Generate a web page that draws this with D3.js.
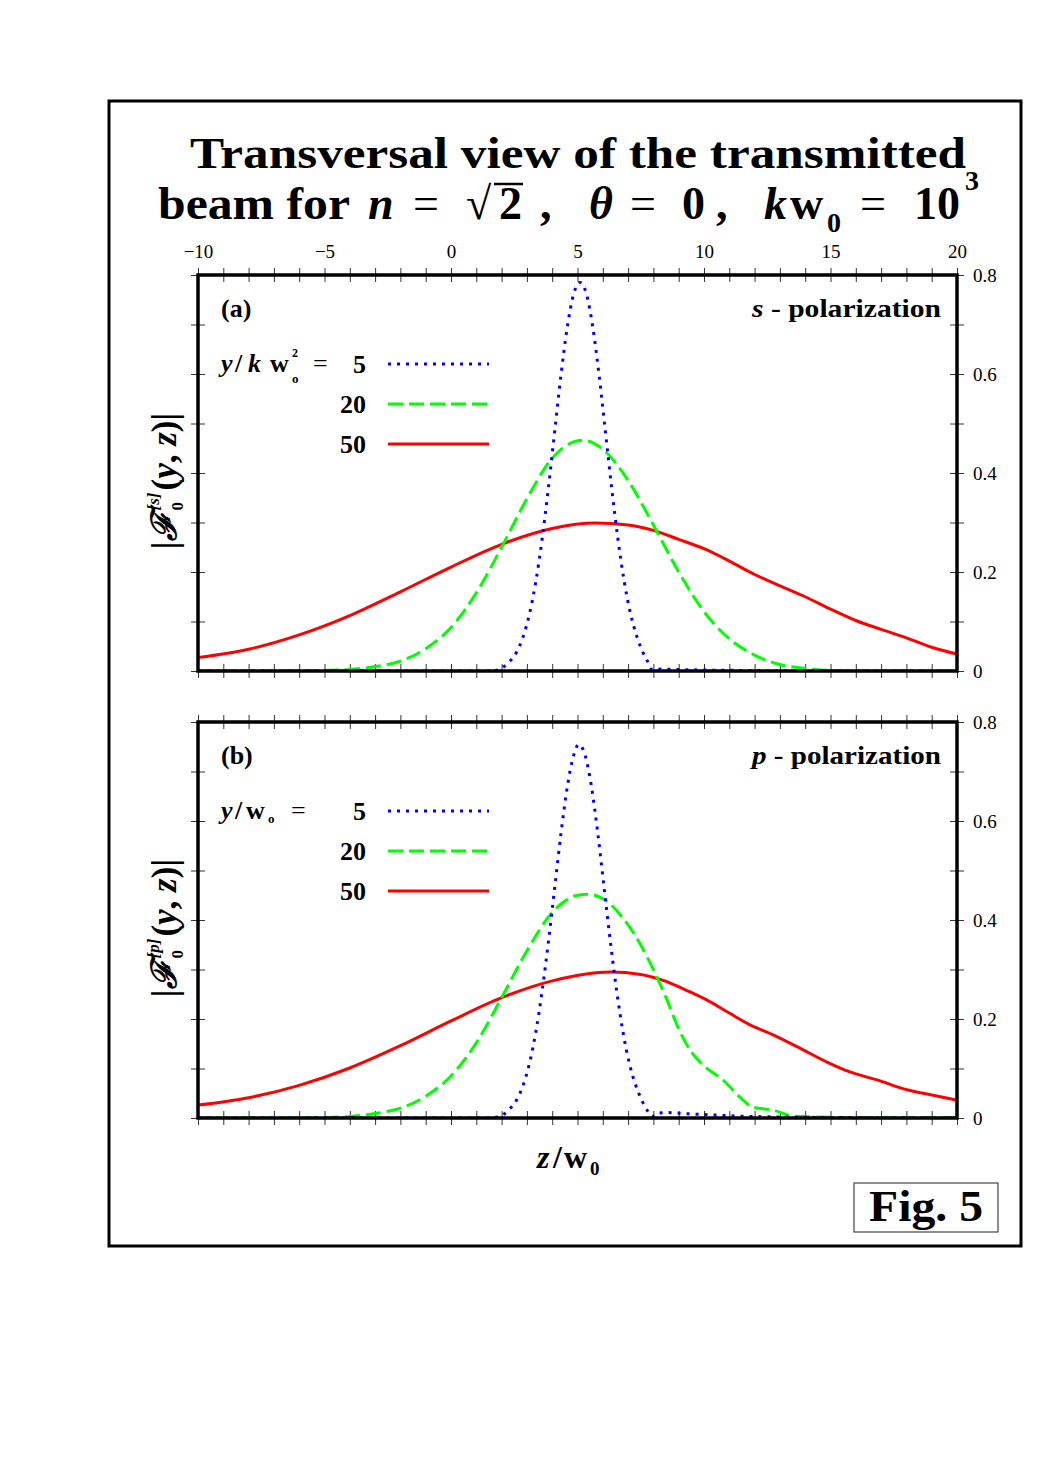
<!DOCTYPE html>
<html><head><meta charset="utf-8">
<script src="https://cdn.jsdelivr.net/npm/d3@7"></script>
<style>body{margin:0;background:#fff} text{font-family:'Liberation Serif','DejaVu Serif',serif}</style>
</head><body>
<svg id="c" width="1063" height="1471" xmlns="http://www.w3.org/2000/svg"></svg>
<script>
// ---------- data ----------
const xTickValues = [-10,-9,-8,-7,-6,-5,-4,-3,-2,-1,0,1,2,3,4,5,6,7,8,9,10,11,12,13,14,15,16,17,18,19,20];
const xTickLabels = [-10,-5,0,5,10,15,20];
const yTickValues = [0,0.1,0.2,0.3,0.4,0.5,0.6,0.7,0.8];
const yTickLabels = [0,0.2,0.4,0.6,0.8];
const legendValues = ["5","20","50"];

// panel (a): s-polarization, [z/w0, |F|]
const blueS = [[-10,0],[1.5,0],[1.85,0.002],[2.1,0.009],[2.35,0.021],[2.6,0.039],[2.85,0.069],[3.1,0.115],[3.35,0.18],[3.6,0.266],[3.85,0.37],[4.1,0.485],[4.35,0.599],[4.6,0.696],[4.85,0.762],[5.1,0.785],[5.35,0.762],[5.6,0.696],[5.85,0.599],[6.1,0.485],[6.35,0.37],[6.6,0.266],[6.85,0.18],[7.1,0.115],[7.35,0.069],[7.6,0.036],[7.85,0.012],[7.95,0.002],[8.3,0.004],[9,0.003],[10,0.002],[12,0.001],[14,0],[20,0]];
const greenS = [[-10,0],[-6,0],[-5,0.001],[-4,0.003],[-3,0.009],[-2,0.02],[-1,0.045],[0,0.088],[1,0.158],[2,0.25],[3,0.348],[4,0.43],[5,0.465],[5.2,0.466],[6,0.448],[7,0.385],[8,0.295],[9,0.2],[10,0.12],[11,0.065],[12,0.032],[13,0.013],[14,0.005],[15,0.001],[16,0],[20,0]];
const redS = [[-10,0.027],[-8,0.044],[-6,0.073],[-4,0.112],[-2,0.16],[0,0.21],[2,0.256],[4,0.288],[5.7,0.299],[7,0.295],[8,0.284],[9,0.266],[10,0.247],[11,0.222],[12,0.195],[13,0.172],[14,0.15],[15,0.125],[16,0.102],[17,0.084],[18,0.067],[19,0.048],[20,0.034]];

// panel (b): p-polarization
const blueP = [[-10,0],[1.5,0],[1.85,0.002],[2.1,0.008],[2.35,0.02],[2.6,0.037],[2.85,0.066],[3.1,0.11],[3.35,0.173],[3.6,0.256],[3.85,0.356],[4.1,0.466],[4.35,0.576],[4.6,0.67],[4.85,0.733],[5.05,0.755],[5.3,0.733],[5.55,0.67],[5.8,0.576],[6.05,0.466],[6.3,0.356],[6.55,0.256],[6.8,0.173],[7.05,0.11],[7.3,0.066],[7.55,0.035],[7.8,0.012],[7.95,0.003],[8.2,0.01],[8.6,0.011],[9.2,0.009],[10,0.007],[11.3,0.004],[13,0.002],[15,0.001],[20,0]];
const greenP = [[-10,0],[-6,0],[-5,0.001],[-4,0.003],[-3,0.009],[-2,0.02],[-1,0.044],[0,0.085],[1,0.152],[2,0.243],[3,0.338],[4,0.415],[5,0.45],[5.4,0.452],[6,0.443],[7,0.39],[8,0.3],[8.54,0.238],[9,0.18],[9.45,0.137],[9.96,0.107],[10.75,0.077],[11.42,0.042],[11.94,0.022],[12.73,0.016],[13.52,0.004],[14.5,0.002],[16,0.001],[20,0.001]];
const redP = [[-10,0.026],[-8,0.041],[-6,0.066],[-4,0.101],[-2,0.146],[0,0.196],[2,0.243],[4,0.277],[6.3,0.295],[7.5,0.29],[8.5,0.276],[9.3,0.258],[10.12,0.238],[11,0.212],[11.82,0.188],[12.73,0.168],[13.79,0.141],[14.86,0.113],[15.77,0.093],[16.84,0.077],[18.02,0.057],[19.05,0.046],[20,0.036]];

// ---------- drawing ----------
const svg = d3.select("#c");
const SERIF = "'Liberation Serif', 'DejaVu Serif', serif";

function txt(parent, xx, yy, s, o={}) {
  const t = parent.append("text").attr("x",xx).attr("y",yy).text(s)
    .style("font-family",SERIF).attr("font-size",o.size||20);
  if(o.bold!==false) t.attr("font-weight","bold");
  if(o.it) t.attr("font-style","italic");
  if(o.anchor) t.attr("text-anchor",o.anchor);
  if(o.len) t.attr("textLength",o.len).attr("lengthAdjust","spacingAndGlyphs");
  return t;
}

// outer frame
svg.append("rect").attr("x",109).attr("y",101).attr("width",912).attr("height",1145)
  .attr("fill","none").attr("stroke","#000").attr("stroke-width",3);

// title line 1
txt(svg,190,168,"Transversal view of the transmitted",{size:44,len:776});
// title line 2, pieces placed along the line
const TB = 219;
txt(svg,158,TB,"beam for",{size:46,len:192});
txt(svg,368,TB,"n",{size:46,it:1});
txt(svg,413,TB,"=",{size:46,bold:false});
txt(svg,466,TB,"√",{size:46,bold:false});
const two = txt(svg,499,TB,"2",{size:46});
{
  const b = two.node().getBBox();
  svg.append("line").attr("x1",494).attr("x2",b.x+b.width+1).attr("y1",b.y+6).attr("y2",b.y+6)
    .attr("stroke","#000").attr("stroke-width",2.5);
}
txt(svg,540,TB,",",{size:46});
txt(svg,589,TB,"θ",{size:46,it:1});
txt(svg,630,TB,"=",{size:46,bold:false});
txt(svg,682,TB,"0",{size:46});
txt(svg,716,TB,",",{size:46});
txt(svg,764,TB,"k",{size:46,it:1});
txt(svg,790,TB,"w",{size:46});
txt(svg,827,TB+13,"0",{size:28});
txt(svg,860,TB,"=",{size:46,bold:false});
txt(svg,914,TB,"10",{size:46});
txt(svg,965,190,"3",{size:28});

const x = d3.scaleLinear().domain([-10,20]).range([198,957]);

const panels = [
  {top:275, bottom:671, data:[blueS,greenS,redS], tag:"(a)", pol:"s", labels:true, yl:"s", leg:"a"},
  {top:722, bottom:1118, data:[blueP,greenP,redP], tag:"(b)", pol:"p", labels:false, yl:"p", leg:"b"}
];
const styles = [
  {c:"#0000ff", d:"3,6"},
  {c:"#00ff00", d:"15,6"},
  {c:"#ff0000", d:null}
];

panels.forEach((P,pi)=>{
  const y = d3.scaleLinear().domain([0,0.8]).range([P.bottom,P.top]);
  const g = svg.append("g");
  const clipId = "clip"+pi;
  svg.append("clipPath").attr("id",clipId).append("rect")
    .attr("x",198).attr("y",P.top-12).attr("width",759).attr("height",P.bottom-P.top+12);

  // axes
  const topAx = g.append("g").attr("transform",`translate(0,${P.top})`)
    .call(d3.axisTop(x).tickValues(xTickValues).tickSize(7).tickPadding(10)
      .tickFormat(d=> (P.labels && xTickLabels.includes(d)) ? d3.format("")(d) : ""));
  const botAx = g.append("g").attr("transform",`translate(0,${P.bottom})`)
    .call(d3.axisBottom(x).tickValues(xTickValues).tickSize(7).tickFormat(""));
  const leftAx = g.append("g").attr("transform","translate(198,0)")
    .call(d3.axisLeft(y).tickValues(yTickValues).tickSize(7).tickFormat(""));
  const rightAx = g.append("g").attr("transform","translate(957,0)")
    .call(d3.axisRight(y).tickValues(yTickValues).tickSize(7).tickPadding(9)
      .tickFormat(d=> yTickLabels.some(v=>Math.abs(v-d)<1e-9) ? d3.format("")(+d.toFixed(1)) : ""));
  [topAx,botAx].forEach(a=>{a.selectAll(".tick line").attr("y1",-7).attr("y2",7);});
  [leftAx,rightAx].forEach(a=>{a.selectAll(".tick line").attr("x1",-7).attr("x2",7);});
  [topAx,botAx,leftAx,rightAx].forEach(a=>{
    a.attr("font-family",null);
    a.select(".domain").remove();
    a.selectAll(".tick line").attr("stroke","#333").attr("stroke-width",1);
    a.selectAll("text").style("font-family",SERIF).attr("font-size",19).attr("fill","#000");
  });

  // curves
  const line = d3.line().x(d=>x(d[0])).y(d=>y(d[1])).curve(d3.curveMonotoneX);
  const cg = g.append("g").attr("clip-path",`url(#${clipId})`);
  [2,1,0].forEach(k=>{
    cg.append("path").datum(P.data[k]).attr("d",line).attr("fill","none")
      .attr("stroke",styles[k].c).attr("stroke-width",3)
      .attr("stroke-dasharray",styles[k].d);
  });

  // frame
  g.append("rect").attr("x",198).attr("y",P.top).attr("width",759).attr("height",P.bottom-P.top)
    .attr("fill","none").attr("stroke","#000").attr("stroke-width",3.5);

  // tag and polarization
  txt(g,221,P.top+42,P.tag,{size:26});
  const pt = txt(g,752,P.top+42,"",{size:25,len:189});
  pt.append("tspan").attr("font-style","italic").text(P.pol);
  pt.append("tspan").text(" - polarization");

  // legend
  const rows = [P.top+89, P.top+129, P.top+169];
  const base = rows[0]+8;
  txt(g,221,base,"y",{size:26,it:1});
  txt(g,235,base,"/",{size:26});
  if(P.leg==="a"){
    txt(g,248,base,"k",{size:26,it:1});
    txt(g,270,base,"w",{size:26});
    txt(g,292,base-15,"2",{size:12});
    txt(g,292,base+11,"o",{size:13});
    txt(g,313,base,"=",{size:26,bold:false});
  } else {
    txt(g,246,base,"w",{size:26});
    txt(g,268,base+4,"o",{size:13});
    txt(g,291,base,"=",{size:26,bold:false});
  }
  legendValues.forEach((v,k)=>{
    txt(g,366,rows[k]+9,v,{size:26,anchor:"end"});
    g.append("line").attr("x1",388).attr("x2",489).attr("y1",rows[k]).attr("y2",rows[k])
      .attr("stroke",styles[k].c).attr("stroke-width",3).attr("stroke-dasharray",styles[k].d);
  });

  // y label (rotated)
  const cy = (P.top+P.bottom)/2 + 8;
  const yg = g.append("g").attr("transform",`translate(176,${cy}) rotate(-90)`);
  const t1 = txt(yg,0,0,"",{size:35});
  t1.append("tspan").text("|");
  t1.append("tspan").attr("font-style","italic").text("ℱ");
  const w1 = t1.node().getComputedTextLength();
  const sup = txt(yg,w1+2,-17,`[${P.yl}]`,{size:17,it:1});
  txt(yg,w1+2,7,"0",{size:17});
  const w2 = w1 + 2 + sup.node().getComputedTextLength() + 2;
  const t3 = txt(yg,w2,0,"",{size:35});
  t3.append("tspan").text("(");
  t3.append("tspan").attr("font-style","italic").text("y");
  t3.append("tspan").text(", ");
  t3.append("tspan").attr("font-style","italic").text("z");
  t3.append("tspan").text(")|");
  const total = w2 + t3.node().getComputedTextLength();
  yg.selectAll("text").attr("transform",`translate(${-total/2},0)`);
});

// x label
txt(svg,537,1168,"z",{size:32,it:1});
txt(svg,553,1168,"/",{size:32});
txt(svg,564,1168,"w",{size:32});
txt(svg,590,1175,"0",{size:19});

// Fig. 5 box
svg.append("rect").attr("x",854).attr("y",1183).attr("width",144).attr("height",49)
  .attr("fill","none").attr("stroke","#444").attr("stroke-width",1.2);
txt(svg,869,1221,"Fig. 5",{size:44,len:114});
</script>
</body></html>
